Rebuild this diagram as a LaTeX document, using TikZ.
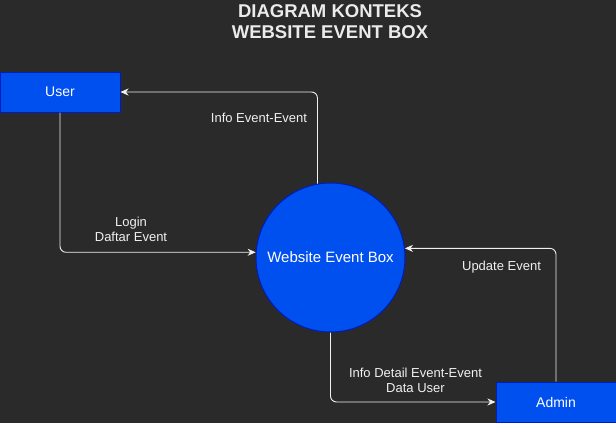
\documentclass[tikz,border=0pt]{standalone}
\usepackage{fontspec}
\setmainfont{Liberation Sans}
\usetikzlibrary{arrows.meta}
\definecolor{bgc}{HTML}{2A2A2A}
\definecolor{boxfill}{HTML}{0050EF}
\definecolor{boxline}{HTML}{001DBC}
\definecolor{linec}{HTML}{F0F0F0}
\tikzset{
  entity/.style={draw=boxline, fill=boxfill, line width=1pt, minimum width=120pt, minimum height=40pt, inner sep=0pt, text=white, font=\fontsize{14}{16}\selectfont},
  proc/.style={circle, draw=boxline, fill=boxfill, line width=1pt, minimum size=149pt, inner sep=0pt, text=white, font=\fontsize{15}{17}\selectfont},
  flow/.style={draw=linec, line width=0.9pt, rounded corners=6pt, -{Stealth[length=8pt,width=7pt,inset=2.5pt]}},
  lbl/.style={text=linec, font=\fontsize{13}{15}\selectfont, align=center, inner sep=0pt},
  ttl/.style={text=white!92!black, font=\bfseries\fontsize{18.5}{21}\selectfont, align=center, inner sep=0pt}
}
\begin{document}
\begin{tikzpicture}[x=1pt,y=-1pt]
\fill[bgc] (0,0) rectangle (616,423);
\useasboundingbox (0,0) rectangle (616,423);
\node[ttl] (title) at (330,22) {DIAGRAM KONTEKS\\WEBSITE EVENT BOX};
\node[entity] (user) at (60,92) {User};
\node[entity] (admin) at (556,402) {Admin};
\node[proc] (sys) at (330.5,257.5) {Website Event Box};
\draw[flow] (sys.100) |- (user.east);
\draw[flow] (user.south) |- (sys.176);
\draw[flow] (admin.north) |- (sys.7);
\draw[flow] (sys.south) |- (admin.west);
\node[lbl] (l1) at (259,118) {Info Event-Event};
\node[lbl] (l2) at (131,229) {Login\\Daftar Event};
\node[lbl] (l3) at (501.5,267.5) {Update Event};
\node[lbl] (l4) at (415.5,380.5) {Info Detail Event-Event\\Data User};
\end{tikzpicture}
\end{document}
